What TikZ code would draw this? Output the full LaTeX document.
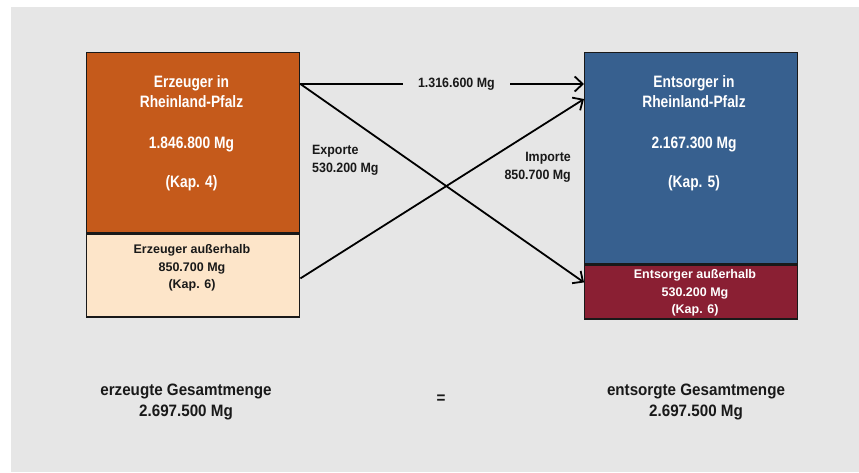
\documentclass[tikz,border=0pt]{standalone}
\usepackage{fontspec}
\setmainfont{Liberation Sans}
\newfontfamily\narrowfont{Liberation Sans}[FakeStretch=0.835]
\newfontfamily\semifont{Liberation Sans}[FakeStretch=0.92]
\usetikzlibrary{arrows.meta,positioning}
\definecolor{bggrey}{HTML}{E6E6E6}
\definecolor{rpOrange}{HTML}{C55A1B}
\definecolor{rpPeach}{HTML}{FDE5C9}
\definecolor{rpBlue}{HTML}{37608F}
\definecolor{rpWine}{HTML}{8A1F33}

\begin{document}
\begin{tikzpicture}
	[
		x = 1pt, y = -1pt,
		box/.style = {draw=black!90, line width=1.4pt, anchor=north west, inner sep=0pt, minimum width=213pt},
		erzeuger/.style = {box, fill=rpOrange, minimum height=180pt},
		erzaussen/.style = {box, fill=rpPeach, minimum height=83pt},
		entsorger/.style = {box, fill=rpBlue, minimum height=211pt},
		entsaussen/.style = {box, fill=rpWine, minimum height=54pt},
		titeltext/.style = {anchor=base, align=center, text=white, inner sep=0pt, font=\narrowfont\bfseries\fontsize{16.5}{20}\selectfont},
		kleintext/.style = {anchor=base, align=center, inner sep=0pt, font=\bfseries\fontsize{12.5}{18}\selectfont},
		menge/.style = {inner sep=0pt, text=black!90, font=\semifont\bfseries\fontsize{13.5}{17.5}\selectfont},
		gesamt/.style = {anchor=base, align=center, inner sep=0pt, text=black!90, font=\semifont\bfseries\fontsize{16.5}{21}\selectfont},
		flow/.style = {line width=1.8pt, -{Straight Barb[length=8pt,width=15pt,line width=1.8pt]}}]

	\useasboundingbox (0,0) rectangle (859,472);
	\fill[bggrey] (11,7) rectangle (859,472);

	\node[erzeuger] (erzIn) at (86,52) {};
	\node[erzaussen] (erzAus) at (erzIn.south west) {};
	\node[entsorger] (entsIn) at (584,52) {};
	\node[entsaussen] (entsAus) at (entsIn.south west) {};

	\node[titeltext] (erzInTxt) at (191.5,187) {Erzeuger in\\Rheinland-Pfalz\\[21pt]1.846.800 Mg\\[19pt](Kap. 4)};
	\node[titeltext] (entsInTxt) at (694,187) {Entsorger in\\Rheinland-Pfalz\\[21pt]2.167.300 Mg\\[19pt](Kap. 5)};
	\node[kleintext, text=black!90] (erzAusTxt) at (192,288) {Erzeuger außerhalb\\850.700 Mg\\[-1pt](Kap. 6)};
	\node[kleintext, text=white] (entsAusTxt) at (695,313) {Entsorger außerhalb\\530.200 Mg\\[-1pt](Kap. 6)};

	\coordinate (ausOben) at ([yshift=-32pt]erzIn.north east);
	\coordinate (ausUnten) at ([yshift=-45pt]erzAus.north east);
	\coordinate (einOben) at ([yshift=-32pt]entsIn.north west);
	\coordinate (einMitte) at ([yshift=-47pt]entsIn.north west);
	\coordinate (einUnten) at ([yshift=-18pt]entsAus.north west);

	\draw[flow] (ausOben) -- node[menge, fill=bggrey, inner xsep=15pt, inner ysep=3pt, pos=0.55] (innen) {1.316.600 Mg} (einOben);
	\draw[flow] (ausOben) -- (einUnten);
	\draw[flow] (ausUnten) -- (einMitte);

	\node[menge, anchor=base west, align=left] (exporte) at (312,172) {Exporte\\530.200 Mg};
	\node[menge, anchor=base east, align=right] (importe) at (571,179) {Importe\\850.700 Mg};

	\node[gesamt] (erzGes) at (186,416) {erzeugte Gesamtmenge\\2.697.500 Mg};
	\node[gesamt, anchor=center] (gleich) at (441,399) {=};
	\node[gesamt] (entsGes) at (696,416) {entsorgte Gesamtmenge\\2.697.500 Mg};
\end{tikzpicture}
\end{document}
